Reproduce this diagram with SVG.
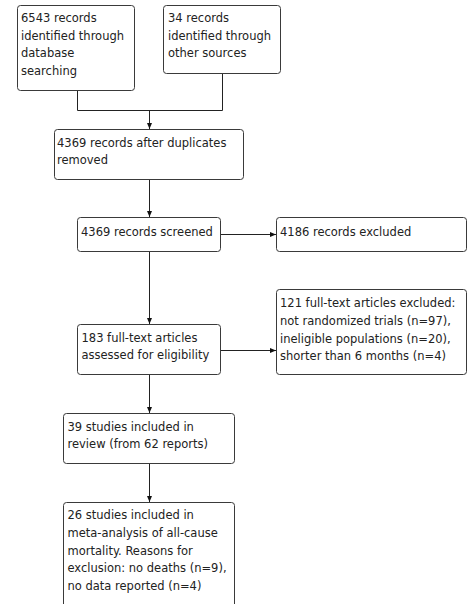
<svg xmlns="http://www.w3.org/2000/svg" width="473" height="604" viewBox="0 0 473 604">
<defs>
<marker id="ah" markerWidth="6" markerHeight="6" refX="6" refY="3" orient="auto" markerUnits="userSpaceOnUse">
<path d="M0,0.5 L6,3 L0,5.5 Z" fill="#111"/>
</marker>
<style>
rect.box{fill:#fff;stroke:#3a3a3a;stroke-width:1}
text{font-family:"DejaVu Sans","Liberation Sans",sans-serif;font-size:11.5px;fill:#222}
.c{fill:none;stroke:#222;stroke-width:1}
</style>
</defs>
<rect width="473" height="604" fill="#fff"/>
<g id="connectors">
<path class="c" d="M77.5,91 V110.5 H222.5 V74"/>
<path class="c" d="M149.5,110.5 V129" marker-end="url(#ah)"/>
<path class="c" d="M149.5,180 V217" marker-end="url(#ah)"/>
<path class="c" d="M221,234.5 H276" marker-end="url(#ah)"/>
<path class="c" d="M149.5,252 V324" marker-end="url(#ah)"/>
<path class="c" d="M221,350.5 H276" marker-end="url(#ah)"/>
<path class="c" d="M149.5,375 V413" marker-end="url(#ah)"/>
<path class="c" d="M149.5,464 V502" marker-end="url(#ah)"/>
</g>
<g id="n1"><rect class="box" x="17.5" y="5.5" width="117" height="85" rx="3"/>
<text x="21" y="22">6543 records</text><text x="21" y="39.6">identified through</text><text x="21" y="57.2">database</text><text x="21" y="74.8">searching</text></g>
<g id="n2"><rect class="box" x="163.5" y="5.5" width="117" height="68" rx="3"/>
<text x="168" y="22">34 records</text><text x="168" y="39.6">identified through</text><text x="168" y="57.2">other sources</text></g>
<g id="n3"><rect class="box" x="54.5" y="129.5" width="189" height="50" rx="3"/>
<text x="57" y="146.5">4369 records after duplicates</text><text x="57" y="164.1">removed</text></g>
<g id="n4"><rect class="box" x="77.5" y="217.5" width="143" height="34" rx="3"/>
<text x="81" y="235.5">4369 records screened</text></g>
<g id="n5"><rect class="box" x="276.5" y="217.5" width="190" height="34" rx="3"/>
<text x="280" y="235.5">4186 records excluded</text></g>
<g id="n6"><rect class="box" x="77.5" y="324.5" width="143" height="50" rx="3"/>
<text x="81.5" y="341.5">183 full-text articles</text><text x="81.5" y="359.1">assessed for eligibility</text></g>
<g id="n7"><rect class="box" x="276.5" y="289.5" width="190" height="85" rx="3"/>
<text x="280" y="307.3">121 full-text articles excluded:</text><text x="280" y="324.9">not randomized trials (n=97),</text><text x="280" y="342.5">ineligible populations (n=20),</text><text x="280" y="360.1">shorter than 6 months (n=4)</text></g>
<g id="n8"><rect class="box" x="63.5" y="413.5" width="171" height="50" rx="3"/>
<text x="67.5" y="430.7">39 studies included in</text><text x="67.5" y="448.3">review (from 62 reports)</text></g>
<g id="n9"><rect class="box" x="63.5" y="502.5" width="171" height="112" rx="3"/>
<text x="67.5" y="519.3">26 studies included in</text><text x="67.5" y="536.9">meta-analysis of all-cause</text><text x="67.5" y="554.5">mortality. Reasons for</text><text x="67.5" y="572.1">exclusion: no deaths (n=9),</text><text x="67.5" y="589.7">no data reported (n=4)</text></g>
</svg>
